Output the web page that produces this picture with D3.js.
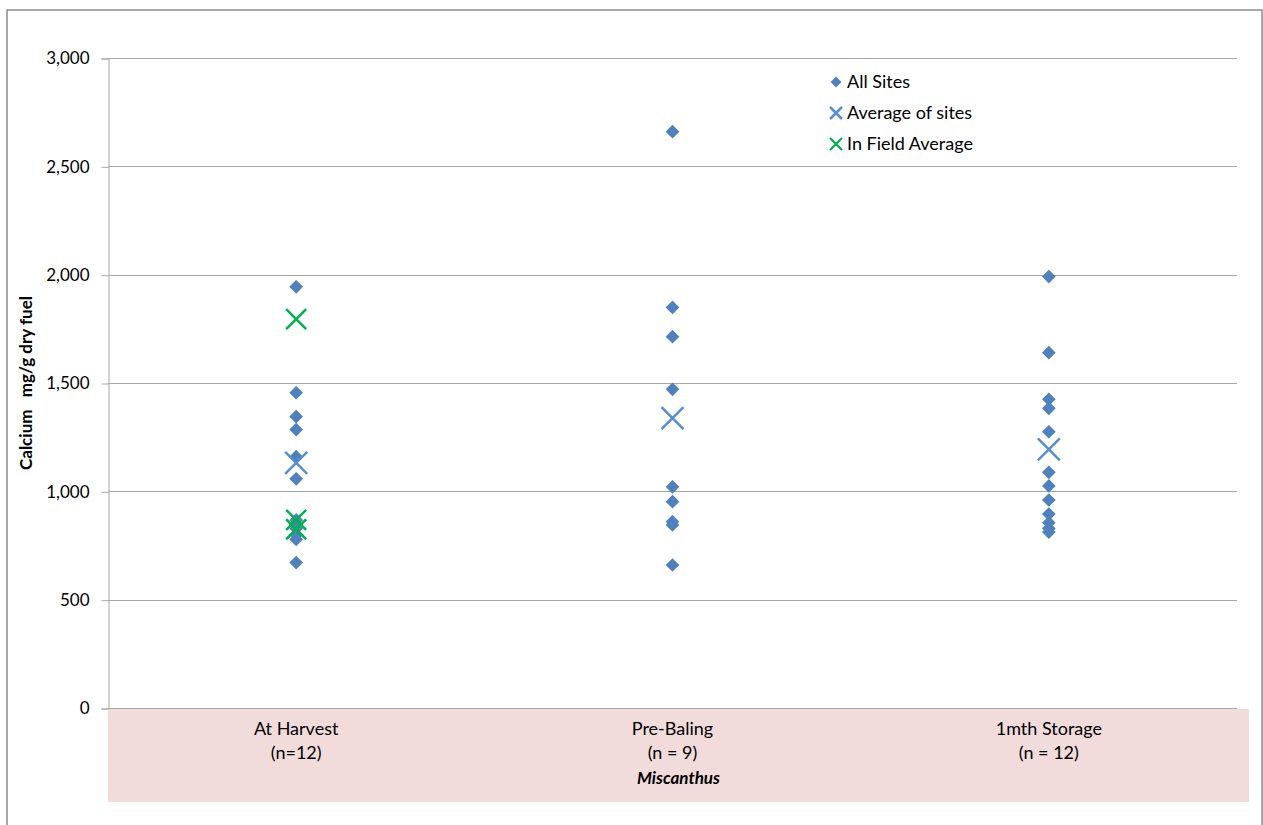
<!DOCTYPE html>
<html><head><meta charset="utf-8">
<script src="https://cdn.jsdelivr.net/npm/d3@7"></script>
<style>
html,body{margin:0;padding:0;background:#fff;}
text{font-family:Lato,"Open Sans",sans-serif;}
</style></head>
<body><svg id="chart" width="1263" height="825"></svg>
<script>
const categories = ["At Harvest", "Pre-Baling", "1mth Storage"];
const categorySubLabels = ["(n=12)", "(n = 9)", "(n = 12)"];
const allSites = [
  [1944, 1455, 1345, 1285, 1160, 1058, 868, 848, 828, 800, 778, 671],
  [2660, 1849, 1714, 1471, 1021, 952, 860, 845, 660],
  [1991, 1640, 1425, 1383, 1275, 1088, 1025, 960, 895, 855, 829, 812]
];
const averageOfSites = [1131, 1338, 1194];
const inFieldAverage = [[1795, 868, 825], [], []];
const yTicks = [0, 500, 1000, 1500, 2000, 2500, 3000];
const legendLabels = ["All Sites", "Average of sites", "In Field Average"];
const xTitle = "Miscanthus";
const yTitle = "Calcium   mg/g dry fuel";

const svg = d3.select("#chart");
const M = {left:108, right:1237, top:58, bottom:708};
const blue = "#4F81BD", lightBlue = "#558ED5", green = "#00B050";

// outer frame
svg.append("rect").attr("x",7).attr("y",10).attr("width",1255).attr("height",830)
  .attr("fill","none").attr("stroke","#8c8c8c").attr("stroke-width",1.5);

const y = d3.scaleLinear().domain([0,3000]).range([M.bottom, M.top]);
const x = d3.scaleBand().domain(categories).range([M.left, M.right]);

// pink band
svg.append("rect").attr("x",M.left).attr("y",M.bottom+1).attr("width",1249-M.left).attr("height",93)
  .attr("fill","#F2DCDB");

// gridlines
svg.append("g").selectAll("line").data(yTicks.filter(d=>d>0)).join("line")
  .attr("x1",M.left).attr("x2",M.right).attr("y1",d=>Math.round(y(d))+0.5).attr("y2",d=>Math.round(y(d))+0.5)
  .attr("stroke","#a6a6a6").attr("stroke-width",1);

// y axis
const yAxis = d3.axisLeft(y).tickValues(yTicks).tickFormat(d3.format(",")).tickSize(7).tickPadding(12);
const ga = svg.append("g").attr("transform",`translate(${M.left+0.5},0.5)`).call(yAxis);
ga.select(".domain").attr("stroke","#a6a6a6");
ga.selectAll(".tick line").attr("stroke","#a6a6a6");
ga.selectAll(".tick text").attr("font-size",17).attr("fill","#000").style("font-family","Lato,'Open Sans',sans-serif");

// x baseline
svg.append("line").attr("x1",M.left).attr("x2",M.right).attr("y1",M.bottom+0.5).attr("y2",M.bottom+0.5)
  .attr("stroke","#a6a6a6");

// category labels
const cx = d => x(d) + x.bandwidth()/2;
svg.append("g").selectAll("text").data(categories).join("text")
  .attr("x",cx).attr("y",735).attr("text-anchor","middle").attr("font-size",18).text(d=>d);
svg.append("g").selectAll("text").data(categorySubLabels).join("text")
  .attr("x",(d,i)=>cx(categories[i])).attr("y",759).attr("text-anchor","middle").attr("font-size",18).text(d=>d);
svg.append("text").attr("x",cx(categories[1])+6).attr("y",784).attr("text-anchor","middle")
  .attr("font-size",17).attr("font-weight","bold").attr("font-style","italic").text(xTitle);

// y title
svg.append("text").attr("transform","translate(32,383) rotate(-90)").attr("text-anchor","middle")
  .attr("font-size",17).attr("font-weight","bold").attr("xml:space","preserve").text(yTitle);

const diamond = d3.symbol().type(d3.symbolDiamond2).size(120);
function xMark(g, px, py, r, color, w){
  g.append("path").attr("d",`M${px-r},${py-r}L${px+r},${py+r}M${px-r},${py+r}L${px+r},${py-r}`)
    .attr("stroke",color).attr("stroke-width",w).attr("fill","none");
}

// All sites
const pts = allSites.flatMap((arr,i)=>arr.map(v=>({c:categories[i],v})));
svg.append("g").selectAll("path").data(pts).join("path")
  .attr("d",diamond).attr("transform",d=>`translate(${cx(d.c)},${y(d.v)})`).attr("fill",blue);

// In-field average
const gMarks = svg.append("g");
inFieldAverage.forEach((arr,i)=>arr.forEach(v=>xMark(gMarks,cx(categories[i]),y(v),10,green,2.5)));
// Average of sites
averageOfSites.forEach((v,i)=>xMark(gMarks,cx(categories[i]),y(v),11,lightBlue,2.5));

// legend
const lg = svg.append("g");
const ly = [82,113,144];
lg.append("path").attr("d",d3.symbol().type(d3.symbolDiamond2).size(75)).attr("transform",`translate(836,${ly[0]})`).attr("fill",blue);
xMark(lg,836,ly[1],6,lightBlue,2.5);
xMark(lg,836,ly[2],6,green,2.2);
lg.selectAll("text").data(legendLabels).join("text")
  .attr("x",847).attr("y",(d,i)=>ly[i]+6).attr("font-size",18).text(d=>d);
</script></body></html>
